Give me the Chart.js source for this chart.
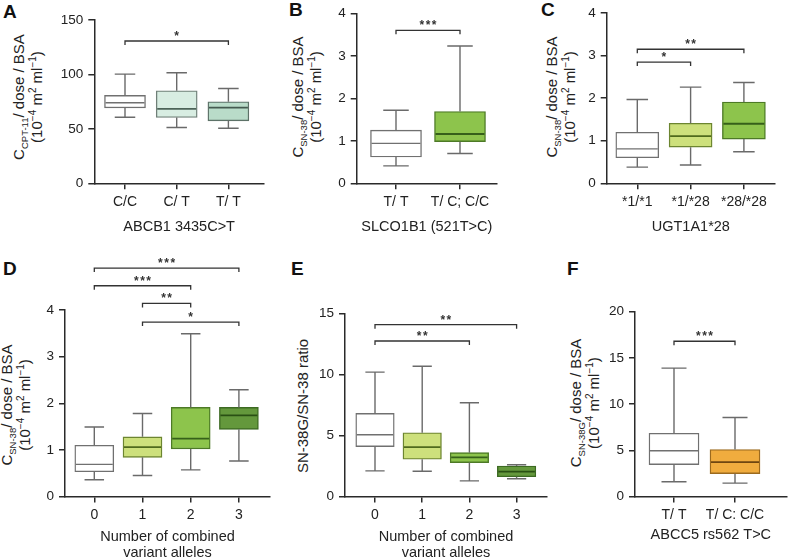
<!DOCTYPE html>
<html>
<head>
<meta charset="utf-8">
<script src="https://cdn.jsdelivr.net/npm/chart.js@4.4.1/dist/chart.umd.min.js"></script>
<style>
  body { margin: 0; width: 789px; height: 558px; overflow: hidden; background: #fff; position: relative;
         font-family: 'Liberation Sans', Arial, sans-serif; color: #222; }
  canvas { position: absolute; }
  .letter { position: absolute; font-weight: bold; font-size: 19px; line-height: 19px; color: #111; }
  .ytitle { position: absolute; transform: translate(-50%, -50%) rotate(-90deg); white-space: nowrap;
            text-align: center; font-size: 15px; line-height: 18px; color: #222; }
  .ytitle sub, .ytitle sup { line-height: 0; }
  .ytitle sub { font-size: 9.5px; }
  .ytitle sup { font-size: 10px; }
</style>
</head>
<body>

<div class="letter" style="left:3px;top:2px">A</div>
<div class="letter" style="left:289px;top:0px">B</div>
<div class="letter" style="left:541px;top:0px">C</div>
<div class="letter" style="left:3px;top:259px">D</div>
<div class="letter" style="left:291px;top:259px">E</div>
<div class="letter" style="left:567px;top:259px">F</div>

<div class="ytitle" style="left:28px;top:97px">C<sub>CPT-11</sub>/ dose / BSA<br>(10<sup>−4</sup> m<sup>2</sup> ml<sup>−1</sup>)</div>
<div class="ytitle" style="left:307px;top:97px">C<sub>SN-38</sub>/ dose / BSA<br>(10<sup>−4</sup> m<sup>2</sup> ml<sup>−1</sup>)</div>
<div class="ytitle" style="left:561px;top:97px">C<sub>SN-38</sub>/ dose / BSA<br>(10<sup>−4</sup> m<sup>2</sup> ml<sup>−1</sup>)</div>
<div class="ytitle" style="left:16px;top:405px">C<sub>SN-38</sub>/ dose / BSA<br>(10<sup>−4</sup> m<sup>2</sup> ml<sup>−1</sup>)</div>
<div class="ytitle" style="left:303px;top:406px">SN-38G/SN-38 ratio</div>
<div class="ytitle" style="left:585px;top:403px">C<sub>SN-38G</sub>/ dose / BSA<br>(10<sup>−4</sup> m<sup>2</sup> ml<sup>−1</sup>)</div>

<canvas id="chartA"></canvas>
<canvas id="chartB"></canvas>
<canvas id="chartC"></canvas>
<canvas id="chartD"></canvas>
<canvas id="chartE"></canvas>
<canvas id="chartF"></canvas>

<script>
// A: ABCB1 3435C>T, CPT-11
const abcbLabels = ['C/C', 'C/ T', 'T/ T'];
const abcbLow = [60.7, 51.2, 50.6];
const abcbQ1 = [69.3, 60.4, 57.4];
const abcbMedian = [74.0, 68.4, 69.6];
const abcbQ3 = [80.7, 85.0, 74.9];
const abcbHigh = [100.3, 101.5, 87.1];
const abcbTicks = [0, 50, 100, 150];
const abcbSig = [[0, 2, 130.7, '*']];

// B: SLCO1B1 (521T>C), SN-38
const slcoLabels = ['T/ T', 'T/ C; C/C'];
const slcoLow = [0.41, 0.70];
const slcoQ1 = [0.62, 0.98];
const slcoMedian = [0.94, 1.16];
const slcoQ3 = [1.25, 1.69];
const slcoHigh = [1.72, 3.23];
const slcoTicks = [0, 1, 2, 3, 4];
const slcoSig = [[0, 1, 3.6, '***']];

// C: UGT1A1*28, SN-38
const ugtLabels = ['*1/*1', '*1/*28', '*28/*28'];
const ugtLow = [0.38, 0.43, 0.74];
const ugtQ1 = [0.60, 0.85, 1.04];
const ugtMedian = [0.81, 1.11, 1.40];
const ugtQ3 = [1.20, 1.41, 1.91];
const ugtHigh = [1.97, 2.26, 2.37];
const ugtTicks = [0, 1, 2, 3, 4];
const ugtSig = [[0, 2, 3.15, '**'], [0, 1, 2.85, '*']];

// D: combined variant alleles, SN-38
const comboLabels = ['0', '1', '2', '3'];
const sn38Low = [0.36, 0.45, 0.57, 0.76];
const sn38Q1 = [0.53, 0.84, 1.02, 1.44];
const sn38Median = [0.69, 1.06, 1.24, 1.74];
const sn38Q3 = [1.10, 1.28, 1.91, 1.91];
const sn38High = [1.49, 1.78, 3.49, 2.29];
const sn38Ticks = [0, 1, 2, 3, 4];
const sn38Sig = [[0, 3, 4.9, '***'], [0, 2, 4.52, '***'], [1, 2, 4.14, '**'], [1, 3, 3.74, '*']];

// E: combined variant alleles, SN-38G/SN-38 ratio
const ratioLow = [2.10, 2.07, 1.28, 1.45];
const ratioQ1 = [4.08, 3.05, 2.78, 1.62];
const ratioMedian = [5.06, 4.05, 3.21, 2.03];
const ratioQ3 = [6.80, 5.22, 3.59, 2.50];
const ratioHigh = [10.18, 10.67, 7.67, 2.60];
const ratioTicks = [0, 5, 10, 15];
const ratioSig = [[0, 3, 14.07, '**'], [0, 2, 12.73, '**']];

// F: ABCC5 rs562 T>C, SN-38G
const abccLabels = ['T/ T', 'T/ C: C/C'];
const sn38gLow = [1.60, 1.45];
const sn38gQ1 = [3.45, 2.47];
const sn38gMedian = [4.95, 3.71];
const sn38gQ3 = [6.84, 5.09];
const sn38gHigh = [13.89, 8.55];
const sn38gTicks = [0, 5, 10, 15, 20];
const sn38gSig = [[0, 1, 16.8, '***']];

const FONT = "'Liberation Sans', Arial, sans-serif";
const AXIS = '#2a2a2a';
const WHISKER = '#6a6a6a';

// box styles
const white = { fill: '#ffffff', stroke: '#707070', median: '#707070' };
const mint = { fill: '#d8ede2', stroke: '#6f7f77', median: '#4d6358' };
const sage = { fill: '#b9dcc9', stroke: '#5d7268', median: '#455a50' };
const lime = { fill: '#cde07c', stroke: '#6c8530', median: '#4f6a1c' };
const green = { fill: '#8dc44c', stroke: '#4d7a26', median: '#36601a' };
const forest = { fill: '#64983c', stroke: '#3c6a22', median: '#2a5014' };
const orange = { fill: '#f0ac3e', stroke: '#9c6a1e', median: '#6e4610' };

function makeExtras(p) {
  return {
    id: 'boxExtras',
    afterDatasetsDraw(chart) {
      const { ctx, scales: { x, y } } = chart;
      ctx.save();
      p.labels.forEach((_, i) => {
        const cx = x.getPixelForValue(i);
        const hw = p.boxW / 2;
        const yHigh = y.getPixelForValue(p.high[i]);
        const yLow = y.getPixelForValue(p.low[i]);
        const yQ1 = y.getPixelForValue(p.q1[i]);
        const yQ3 = y.getPixelForValue(p.q3[i]);
        const yMed = y.getPixelForValue(p.median[i]);
        ctx.strokeStyle = WHISKER;
        ctx.lineWidth = 1.4;
        ctx.beginPath();
        ctx.moveTo(cx, yHigh); ctx.lineTo(cx, yQ3);
        ctx.moveTo(cx, yQ1); ctx.lineTo(cx, yLow);
        ctx.moveTo(cx - hw / 2, yHigh); ctx.lineTo(cx + hw / 2, yHigh);
        ctx.moveTo(cx - hw / 2, yLow); ctx.lineTo(cx + hw / 2, yLow);
        ctx.stroke();
        ctx.strokeStyle = p.styles[i].median;
        ctx.lineWidth = p.styles[i] === white ? 1.4 : 1.8;
        ctx.beginPath();
        ctx.moveTo(cx - hw + 1, yMed); ctx.lineTo(cx + hw - 1, yMed);
        ctx.stroke();
      });
      ctx.restore();
    },
    afterDraw(chart) {
      const { ctx, scales: { x, y } } = chart;
      ctx.save();
      ctx.strokeStyle = '#333';
      ctx.fillStyle = '#333';
      ctx.lineWidth = 1.3;
      ctx.font = 'bold 12px ' + FONT;
      ctx.letterSpacing = '1.5px';
      ctx.textAlign = 'center';
      ctx.textBaseline = 'alphabetic';
      p.sig.forEach(([a, b, v, stars]) => {
        const x1 = x.getPixelForValue(a);
        const x2 = x.getPixelForValue(b);
        const yy = y.getPixelForValue(v);
        ctx.beginPath();
        ctx.moveTo(x1, yy + 4); ctx.lineTo(x1, yy); ctx.lineTo(x2, yy); ctx.lineTo(x2, yy + 4);
        ctx.stroke();
        ctx.fillText(stars, (x1 + x2) / 2 + 0.75, yy - 1);
      });
      ctx.restore();
    }
  };
}

function boxChart(id, p) {
  const canvas = document.getElementById(id);
  canvas.width = p.width;
  canvas.height = p.height;
  canvas.style.left = p.left + 'px';
  canvas.style.top = p.top + 'px';
  const xMin = -(p.cat0 - p.x0) / p.step;
  const xMax = (p.x1 - p.cat0) / p.step;
  const lh = 16.6;
  const lines = Array.isArray(p.xTitle) ? p.xTitle.length : 1;
  return new Chart(canvas.getContext('2d'), {
    type: 'bar',
    data: {
      datasets: [{
        data: p.labels.map((_, i) => ({ x: i, y: [p.q1[i], p.q3[i]] })),
        backgroundColor: p.styles.map(s => s.fill),
        borderColor: p.styles.map(s => s.stroke),
        borderWidth: 1.4,
        borderSkipped: false,
        barThickness: p.boxW
      }]
    },
    options: {
      responsive: false,
      animation: false,
      events: [],
      layout: { padding: { top: p.yTop - p.top, right: p.left + p.width - p.x1, bottom: 0, left: 0 } },
      plugins: { legend: { display: false }, tooltip: { enabled: false } },
      scales: {
        x: {
          type: 'linear',
          min: xMin,
          max: xMax,
          offset: false,
          afterBuildTicks: s => { s.ticks = p.labels.map((_, i) => ({ value: i })); },
          afterFit: s => { s.height = p.top + p.height - p.yBottom; },
          ticks: {
            callback: v => p.labels[v],
            autoSkip: false, maxRotation: 0, padding: 4,
            color: '#222', font: { family: FONT, size: 14 }
          },
          grid: { offset: false, drawOnChartArea: false, drawTicks: true, tickLength: 6, color: AXIS, lineWidth: 1.5 },
          border: { display: true, color: AXIS, width: 1.5 },
          title: {
            display: true, text: p.xTitle, color: '#222',
            font: { family: FONT, size: 14.5, lineHeight: lh / 14.5 },
            padding: { top: 0, bottom: p.top + p.height - p.titleY - lh / 2 - (lines - 1) * lh }
          }
        },
        y: {
          min: 0,
          max: p.ticks[p.ticks.length - 1],
          afterBuildTicks: s => { s.ticks = p.ticks.map(v => ({ value: v })); },
          afterFit: s => { s.width = p.x0 - p.left; },
          ticks: { padding: 5, color: '#222', font: { family: FONT, size: 13.5 } },
          grid: { drawOnChartArea: false, drawTicks: true, tickLength: 6, color: AXIS, lineWidth: 1.5 },
          border: { display: true, color: AXIS, width: 1.5 }
        }
      }
    },
    plugins: [makeExtras(p)]
  });
}

boxChart('chartA', {
  left: 0, top: 0, width: 268, height: 240,
  x0: 94.3, x1: 264, yTop: 20, yBottom: 183.3, cat0: 125, step: 51.7, boxW: 41, titleY: 226.7,
  labels: abcbLabels, low: abcbLow, q1: abcbQ1, median: abcbMedian, q3: abcbQ3, high: abcbHigh,
  ticks: abcbTicks, sig: abcbSig, styles: [white, mint, sage], xTitle: 'ABCB1 3435C>T'
});

boxChart('chartB', {
  left: 268, top: 0, width: 236, height: 240,
  x0: 356.7, x1: 497, yTop: 13.3, yBottom: 183.3, cat0: 396, step: 64, boxW: 51, titleY: 226.7,
  labels: slcoLabels, low: slcoLow, q1: slcoQ1, median: slcoMedian, q3: slcoQ3, high: slcoHigh,
  ticks: slcoTicks, sig: slcoSig, styles: [white, green], xTitle: 'SLCO1B1 (521T>C)'
});

boxChart('chartC', {
  left: 530, top: 0, width: 259, height: 240,
  x0: 606.7, x1: 775, yTop: 13, yBottom: 183.3, cat0: 637.3, step: 53.3, boxW: 43, titleY: 226.7,
  labels: ugtLabels, low: ugtLow, q1: ugtQ1, median: ugtMedian, q3: ugtQ3, high: ugtHigh,
  ticks: ugtTicks, sig: ugtSig, styles: [white, lime, green], xTitle: 'UGT1A1*28'
});

boxChart('chartD', {
  left: 0, top: 258, width: 272, height: 304,
  x0: 65, x1: 270, yTop: 310, yBottom: 496.5, cat0: 94.3, step: 48.2, boxW: 39, titleY: 536.7,
  labels: comboLabels, low: sn38Low, q1: sn38Q1, median: sn38Median, q3: sn38Q3, high: sn38High,
  ticks: sn38Ticks, sig: sn38Sig, styles: [white, lime, green, forest],
  xTitle: ['Number of combined', 'variant alleles']
});

boxChart('chartE', {
  left: 272, top: 258, width: 278, height: 304,
  x0: 345, x1: 547, yTop: 313.3, yBottom: 496.5, cat0: 375, step: 47.2, boxW: 38.5, titleY: 536.7,
  labels: comboLabels, low: ratioLow, q1: ratioQ1, median: ratioMedian, q3: ratioQ3, high: ratioHigh,
  ticks: ratioTicks, sig: ratioSig, styles: [white, lime, green, forest],
  xTitle: ['Number of combined', 'variant alleles']
});

boxChart('chartF', {
  left: 550, top: 258, width: 239, height: 304,
  x0: 635, x1: 786.7, yTop: 311.7, yBottom: 496.5, cat0: 674, step: 61, boxW: 50, titleY: 535,
  labels: abccLabels, low: sn38gLow, q1: sn38gQ1, median: sn38gMedian, q3: sn38gQ3, high: sn38gHigh,
  ticks: sn38gTicks, sig: sn38gSig, styles: [white, orange], xTitle: 'ABCC5 rs562 T>C'
});
</script>
</body>
</html>
